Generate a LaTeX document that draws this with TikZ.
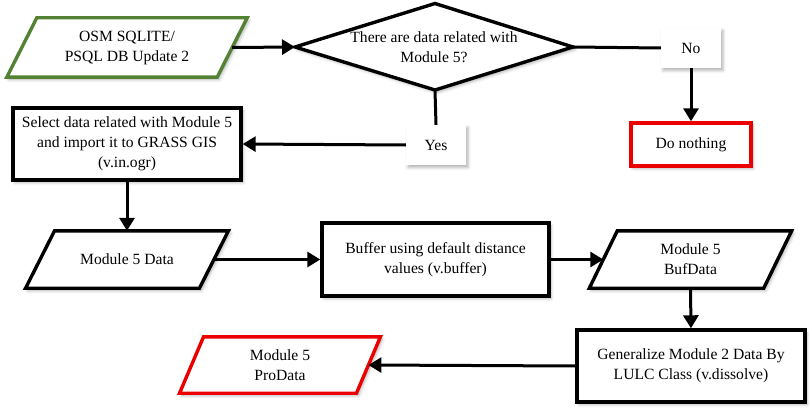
\documentclass[tikz,border=0pt]{standalone}
\usepackage{fontspec}
\setmainfont{Liberation Serif}
\usetikzlibrary{arrows.meta,shadows.blur}
\definecolor{grn}{RGB}{84,130,53}
\definecolor{rd}{RGB}{235,0,0}
\begin{document}
\begin{tikzpicture}[x=1pt,y=1pt,
  every node/.style={font=\fontsize{15.6}{20}\selectfont, align=center, inner sep=0pt},
  shad/.style={blur shadow={shadow xshift=2pt,shadow yshift=-2.5pt,shadow blur radius=3pt,shadow opacity=30}},
  boxk/.style={draw=black, line width=3.4pt, fill=white, shad},
  boxr/.style={draw=rd, line width=3.4pt, fill=white, shad},
  lbl/.style={fill=white, shad},
  conn/.style={line width=3pt, draw=black},
  arr/.style={conn, -{Triangle[length=13pt,width=15pt]}},
  paraK/.style={draw=black, line width=3.4pt, fill=white, line join=miter, shad},
  paraG/.style={draw=grn, line width=3.4pt, fill=white, line join=miter, shad},
  paraR/.style={draw=rd, line width=3.4pt, fill=white, line join=miter, shad}
]
\useasboundingbox (0,0) rectangle (812,-412);

% parallelogram areas (nodes without border)
\path (127,-47.5) node[minimum width=210pt, minimum height=59pt] (g) {};
\draw[paraG] ([xshift=15pt]g.north west) -- ([xshift=15pt]g.north east) -- ([xshift=-15pt]g.south east) -- ([xshift=-15pt]g.south west) -- cycle;
\node at (g) {OSM SQLITE/\\PSQL DB Update 2};

% decision diamond
\coordinate (dW) at (295,-47);
\coordinate (dN) at (435,-3.5);
\coordinate (dE) at (573,-47);
\coordinate (dS) at (435,-90);
\draw[paraK] (dW) -- (dN) -- (dE) -- (dS) -- cycle;
\node (dq) at (434,-47) {There are data related with\\Module 5?};

\node[lbl, minimum width=60pt, minimum height=40pt] (no) at (691,-48) {No};
\node[boxr, minimum width=120pt, minimum height=43pt] (dn) at (691,-144.5) {Do nothing};
\node[lbl, minimum width=60pt, minimum height=40pt] (yes) at (436,-145) {Yes};
\node[boxk, minimum width=228pt, minimum height=72pt] (sel) at (127,-144) {Select data related with Module 5\\and import it to GRASS GIS\\(v.in.ogr)};

\path (127,-259.5) node[minimum width=173.5pt, minimum height=57pt] (m5) {};
\draw[paraK] ([xshift=14.5pt]m5.north west) -- ([xshift=14.5pt]m5.north east) -- ([xshift=-14.5pt]m5.south east) -- ([xshift=-14.5pt]m5.south west) -- cycle;
\node at (m5) {Module 5 Data};

\node[boxk, minimum width=227pt, minimum height=73pt] (buf) at (435.5,-259.5) {Buffer using default distance\\values (v.buffer)};

\path (690.5,-259.5) node[minimum width=174pt, minimum height=57pt] (bd) {};
\draw[paraK] ([xshift=14pt]bd.north west) -- ([xshift=14pt]bd.north east) -- ([xshift=-14pt]bd.south east) -- ([xshift=-14pt]bd.south west) -- cycle;
\node at (bd) {Module 5\\BufData};

\node[boxk, minimum width=228pt, minimum height=72pt] (gen) at (691,-366) {Generalize Module 2 Data By\\LULC Class (v.dissolve)};

\path (280,-365) node[minimum width=176.5pt, minimum height=56pt] (pro) {};
\draw[paraR] ([xshift=12pt]pro.north west) -- ([xshift=12pt]pro.north east) -- ([xshift=-12pt]pro.south east) -- ([xshift=-12pt]pro.south west) -- cycle;
\node at (pro) {Module 5\\ProData};

% connectors
\draw[arr] (g.east) -- (dW);
\draw[conn] (dE) -- (no.west);
\draw[arr] (no.south) -- (dn.north);
\draw[conn] (dS) -- (yes.north);
\draw[arr] (yes.west) -- (sel.east);
\draw[arr] (sel.south) -- (m5.north);
\draw[arr] (m5.east) -- (buf.west);
\draw[arr] (buf.east) -- (bd.west);
\draw[arr] (bd.south) -- (gen.north);
\draw[arr] (gen.west) -- (pro.east);
\end{tikzpicture}
\end{document}
